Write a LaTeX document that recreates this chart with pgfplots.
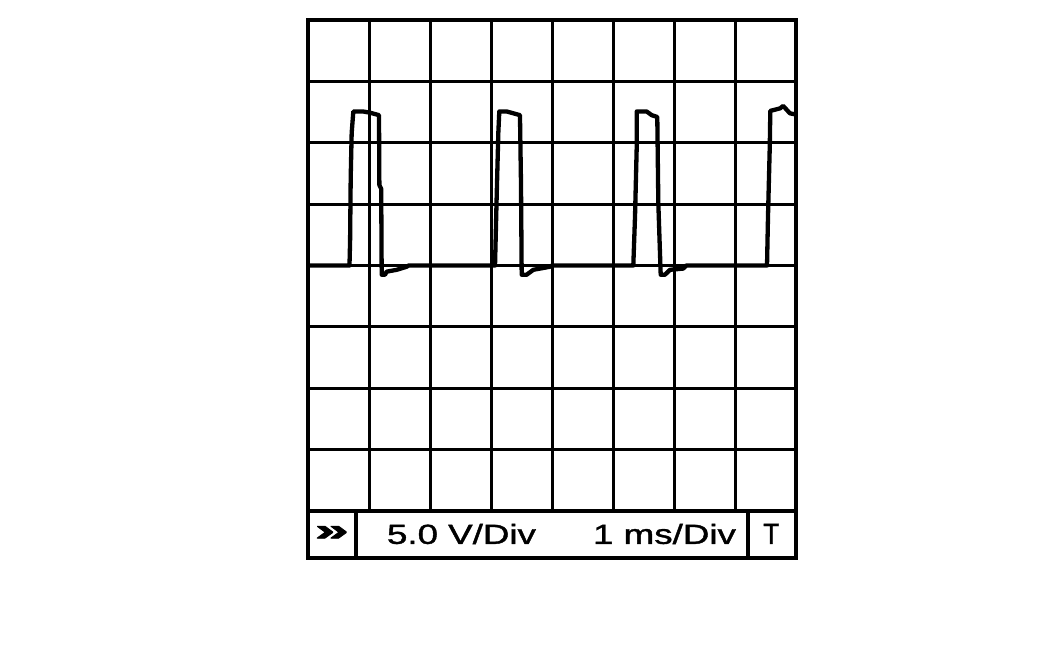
\documentclass[border=0pt]{standalone}
\usepackage{pgfplots}
\pgfplotsset{compat=1.18}
\usepackage{fontspec}
\setmainfont{Liberation Sans}
\newfontfamily\lbl[FakeBold=1.2]{Liberation Sans}
\newfontfamily\chev[FakeBold=2]{Liberation Sans Bold}
\usepackage{graphicx}
\begin{document}
\begin{tikzpicture}
\path[use as bounding box] (-154pt,-75pt) rectangle (377.5pt,255.5pt);
\begin{axis}[
  at={(0,0)}, anchor=south west,
  scale only axis, width=244pt, height=245.5pt,
  xmin=0, xmax=8, ymin=0, ymax=8,
  xtick={0,...,8}, ytick={0,...,8},
  xticklabels={}, yticklabels={},
  major tick length=0pt,
  grid=major,
  grid style={black, line width=1.5pt},
  axis line style={black, line width=2pt},
  clip=false,
]
\addplot[black, line width=2.15pt, line join=round, mark=none] coordinates {
(0,4.0) (0.68,4.0) (0.69,4.4) (0.70,5.43) (0.716,6.16) (0.743,6.51) (0.90,6.51) (1.016,6.49) (1.164,6.45) (1.17,5.31) (1.20,5.25) (1.208,3.85) (1.262,3.85) (1.29,3.90) (1.454,3.93) (1.618,3.98) (1.65,4.0)
(3.066,4.0) (3.093,5.12) (3.12,6.16) (3.136,6.51) (3.257,6.51) (3.366,6.48) (3.475,6.45) (3.492,5.31) (3.503,3.85) (3.585,3.85) (3.693,3.93) (3.967,3.98) (4.0,4.0)
(5.333,4.0) (5.361,4.8) (5.389,5.94) (5.389,6.51) (5.552,6.51) (5.634,6.45) (5.726,6.42) (5.743,5.02) (5.782,3.85) (5.852,3.85) (5.934,3.93) (6.152,3.95) (6.2,4.0)
(7.525,4.0) (7.541,4.8) (7.570,5.94) (7.579,6.52) (7.738,6.56) (7.79,6.60) (7.90,6.48) (8.0,6.46)
};
\draw[line width=2pt] (axis cs:0,0) rectangle (axis cs:8,-0.76);
\draw[line width=2pt] (axis cs:0.795,0) -- (axis cs:0.795,-0.76);
\draw[line width=2pt] (axis cs:7.213,0) -- (axis cs:7.213,-0.76);
\node[anchor=base, inner sep=0pt] at (axis cs:2.516,-0.535) {\resizebox{74.5pt}{10pt}{\lbl 5.0 V/Div}};
\node[anchor=base, inner sep=0pt] at (axis cs:5.844,-0.535) {\resizebox{71.5pt}{10pt}{\lbl 1 ms/Div}};
\node[anchor=base, inner sep=0pt] at (axis cs:7.595,-0.535) {\resizebox{8pt}{10pt}{\lbl T}};
\node[anchor=base, inner sep=0pt] at (axis cs:0.39,-0.48) {\resizebox{17pt}{7.2pt}{\chev »}};
\end{axis}
\end{tikzpicture}
\end{document}
